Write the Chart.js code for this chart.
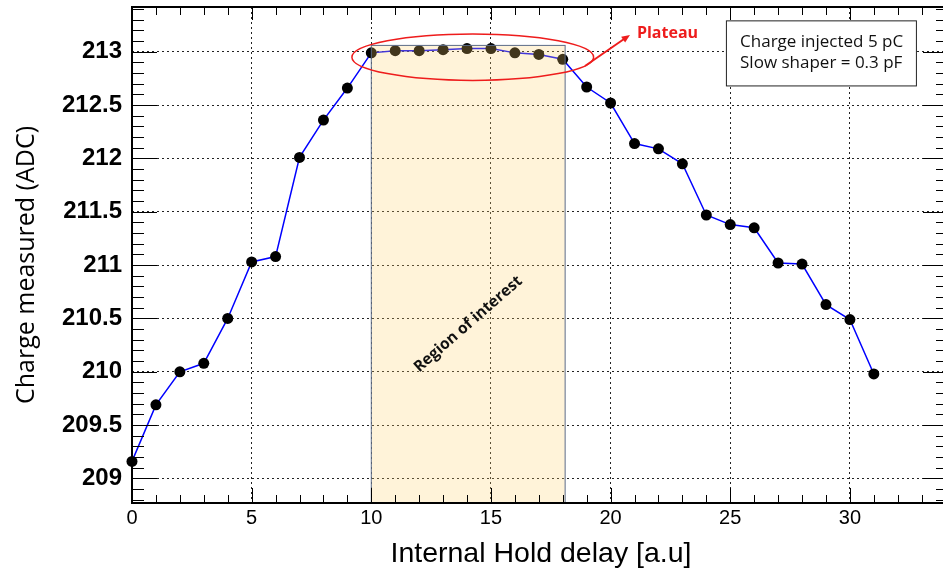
<!DOCTYPE html>
<html>
<head>
<meta charset="UTF-8">
<title>Charge vs Hold delay</title>
<script src="https://cdn.jsdelivr.net/npm/chart.js"></script>
<style>
  html, body { margin: 0; padding: 0; background: #fff; overflow: hidden; }
  #wrap { width: 943px; height: 570px; overflow: hidden; }
</style>
</head>
<body>
<div id="wrap"><canvas id="grafico" width="948" height="570"></canvas></div>
<script>
// data
const delay = [0, 1, 2, 3, 4, 5, 6, 7, 8, 9, 10, 11, 12, 13, 14, 15,
               16, 17, 18, 19, 20, 21, 22, 23, 24, 25, 26, 27, 28, 29, 30, 31];
const charge = [209.16, 209.69, 210.00, 210.08, 210.50, 211.03, 211.08, 212.01,
                212.36, 212.66, 212.99, 213.01, 213.01, 213.02, 213.03, 213.03,
                212.99, 212.975, 212.93, 212.67, 212.52, 212.14, 212.09, 211.95,
                211.47, 211.38, 211.35, 211.02, 211.01, 210.63, 210.49, 209.98];
const xTicks = [0, 5, 10, 15, 20, 25, 30];
const yTicks = [209, 209.5, 210, 210.5, 211, 211.5, 212, 212.5, 213];

// axis ranges and annotations (data units)
const xRange = [0, 34.1];
const yRange = [208.77, 213.42];
const roi = { x0: 10, x1: 18.1, top: 213.06 };

const pontos = delay.map((d, i) => ({ x: d, y: charge[i] }));

// no extra padding for label overhang, chart area is set by hand
function semPadding(s) {
    s.paddingTop = 0; s.paddingBottom = 0; s.paddingLeft = 0; s.paddingRight = 0;
}

// frame, ROOT-like inner ticks, annotations and axis titles
const decor = {
    id: 'decor',
    afterDatasetsDraw(chart) {
        const { ctx, chartArea: a, scales: { x, y } } = chart;
        ctx.save();
        // region of interest (translucent, over the points)
        const rx0 = x.getPixelForValue(roi.x0), rx1 = x.getPixelForValue(roi.x1);
        const ry0 = y.getPixelForValue(roi.top);
        ctx.fillStyle = 'rgba(255, 208, 110, 0.26)';
        ctx.fillRect(rx0, ry0, rx1 - rx0, a.bottom - ry0);
        ctx.strokeStyle = '#5b6b88';
        ctx.lineWidth = 1;
        ctx.strokeRect(rx0, ry0, rx1 - rx0, a.bottom - ry0);

        // rotated label
        ctx.save();
        ctx.translate(x.getPixelForValue(14.05), y.getPixelForValue(210.447));
        ctx.rotate(-41 * Math.PI / 180);
        ctx.fillStyle = '#111';
        ctx.font = 'bold 15.5px "Open Sans"';
        ctx.textAlign = 'center';
        ctx.textBaseline = 'middle';
        ctx.fillText('Region of interest', 0, 0);
        ctx.restore();

        // plateau ellipse
        const ex = x.getPixelForValue(14.24), ey = y.getPixelForValue(212.95);
        const erx = x.getPixelForValue(14.24 + 5.05) - ex;
        const ery = ey - y.getPixelForValue(212.95 + 0.218);
        ctx.strokeStyle = '#ee1c1c';
        ctx.lineWidth = 1.5;
        ctx.beginPath();
        ctx.ellipse(ex, ey, erx, ery, 0, 0, Math.PI * 2);
        ctx.stroke();

        // arrow
        const ax0 = x.getPixelForValue(18.93), ay0 = y.getPixelForValue(212.867);
        const ax1 = x.getPixelForValue(20.81), ay1 = y.getPixelForValue(213.158);
        const ang = Math.atan2(ay1 - ay0, ax1 - ax0);
        ctx.lineWidth = 2;
        ctx.beginPath();
        ctx.moveTo(ax0, ay0);
        ctx.lineTo(ax1 - 5 * Math.cos(ang), ay1 - 5 * Math.sin(ang));
        ctx.stroke();
        ctx.fillStyle = '#ee1c1c';
        ctx.beginPath();
        ctx.moveTo(ax1, ay1);
        ctx.lineTo(ax1 - 9 * Math.cos(ang - 0.4), ay1 - 9 * Math.sin(ang - 0.4));
        ctx.lineTo(ax1 - 9 * Math.cos(ang + 0.4), ay1 - 9 * Math.sin(ang + 0.4));
        ctx.closePath();
        ctx.fill();
        ctx.font = 'bold 16px "Open Sans"';
        ctx.textAlign = 'left';
        ctx.textBaseline = 'middle';
        ctx.fillText('Plateau', x.getPixelForValue(21.1), y.getPixelForValue(213.17));

        // text box
        const bx0 = x.getPixelForValue(24.84), bx1 = x.getPixelForValue(32.78);
        const by0 = y.getPixelForValue(213.29), by1 = y.getPixelForValue(212.68);
        ctx.fillStyle = '#fff';
        ctx.fillRect(bx0, by0, bx1 - bx0, by1 - by0);
        ctx.strokeStyle = '#222';
        ctx.lineWidth = 1;
        ctx.strokeRect(bx0, by0, bx1 - bx0, by1 - by0);
        ctx.fillStyle = '#111';
        ctx.font = '17px "Open Sans"';
        ctx.fillText('Charge injected 5 pC', x.getPixelForValue(25.41), y.getPixelForValue(213.095));
        ctx.fillText('Slow shaper = 0.3 pF', x.getPixelForValue(25.41), y.getPixelForValue(212.892));
        ctx.restore();
    },
    afterDraw(chart) {
        const { ctx, chartArea: a, scales: { x, y } } = chart;
        ctx.save();
        ctx.strokeStyle = '#000';
        ctx.lineWidth = 1;
        ctx.beginPath();
        for (let i = 0; i <= 34; i++) {
            const px = Math.round(x.getPixelForValue(i)) + 0.5;
            const major = i % 5 === 0;
            ctx.moveTo(px, a.bottom);
            ctx.lineTo(px, a.bottom - (major ? 15 : 8));
            ctx.moveTo(px, a.top);
            ctx.lineTo(px, a.top + (major ? 13 : 8));
        }
        for (let k = 2088; k <= 2134; k++) {
            const py = Math.round(y.getPixelForValue(k / 10)) + 0.5;
            const major = k % 5 === 0;
            ctx.moveTo(a.left, py);
            ctx.lineTo(a.left + (major ? 25 : 12), py);
            ctx.moveTo(a.right, py);
            ctx.lineTo(a.right - (major ? 25 : 12), py);
        }
        ctx.stroke();
        ctx.lineWidth = 2;
        ctx.strokeRect(a.left, a.top, a.right - a.left, a.bottom - a.top);

        // axis titles
        ctx.fillStyle = '#000';
        ctx.font = '28.5px "Liberation Sans"';
        ctx.textAlign = 'center';
        ctx.textBaseline = 'alphabetic';
        ctx.fillText('Internal Hold delay [a.u]', 541, 562);
        ctx.translate(27, 265);
        ctx.rotate(-Math.PI / 2);
        ctx.font = '25px "Open Sans"';
        ctx.textBaseline = 'middle';
        ctx.fillText('Charge measured (ADC)', 0, 0);
        ctx.restore();
    }
};

const ctx = document.getElementById('grafico').getContext('2d');
const grafico = new Chart(ctx, {
    type: 'scatter',
    data: {
        datasets: [{
            data: pontos,
            showLine: true,
            borderColor: '#0000ff',
            borderWidth: 1.5,
            backgroundColor: '#000',
            pointBackgroundColor: '#000',
            pointBorderWidth: 0,
            pointRadius: 5.5,
            clip: false
        }]
    },
    options: {
        responsive: false,
        animation: false,
        layout: { autoPadding: false, padding: { top: 7, right: 0, left: 0, bottom: 0 } },
        plugins: { legend: { display: false }, tooltip: { enabled: false } },
        scales: {
            x: {
                type: 'linear',
                min: xRange[0],
                max: xRange[1],
                afterBuildTicks: s => { s.ticks = xTicks.map(v => ({ value: v })); },
                afterFit: s => { s.height = 67; semPadding(s); },
                ticks: {
                    color: '#000',
                    padding: 3,
                    maxRotation: 0,
                    font: { family: 'Liberation Sans', size: 20 },
                    callback: v => String(v)
                },
                grid: { color: '#222', lineWidth: 1, drawTicks: false },
                border: { display: false, dash: [2, 3] }
            },
            y: {
                type: 'linear',
                min: yRange[0],
                max: yRange[1],
                afterBuildTicks: s => { s.ticks = yTicks.map(v => ({ value: v })); },
                afterFit: s => { s.width = 132; semPadding(s); },
                ticks: {
                    color: '#000',
                    padding: 10,
                    font: { family: 'Liberation Sans', size: 24, weight: 'bold' },
                    callback: v => String(v)
                },
                grid: { color: '#222', lineWidth: 1, drawTicks: false },
                border: { display: false, dash: [2, 3] }
            }
        }
    },
    plugins: [decor]
});
</script>
</body>
</html>
